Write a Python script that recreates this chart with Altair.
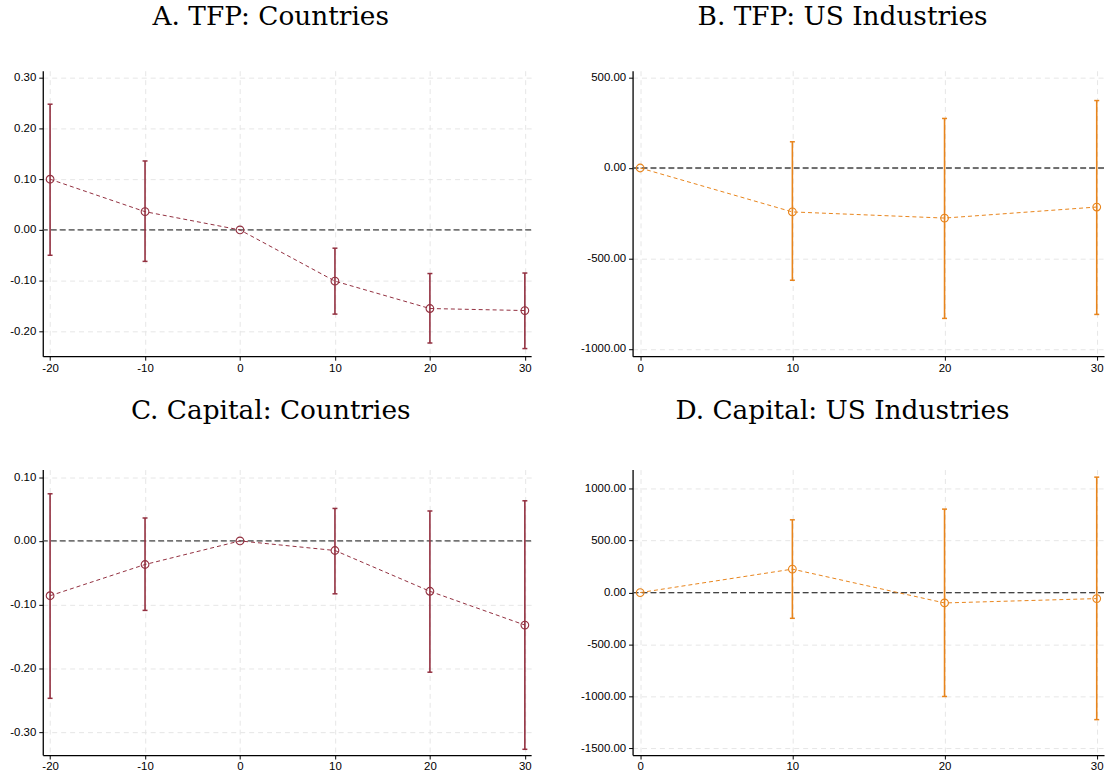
import altair as alt
import pandas as pd

# ---- Panel A: TFP, countries ----
a_x = [-20, -10, 0, 10, 20, 30]
a_est = [0.100, 0.036, 0.0, -0.101, -0.155, -0.159]
a_lo = [-0.050, -0.062, None, -0.166, -0.223, -0.234]
a_hi = [0.248, 0.136, None, -0.036, -0.086, -0.085]

# ---- Panel B: TFP, US industries ----
b_x = [0, 10, 20, 30]
b_est = [0.0, -243.0, -277.0, -216.0]
b_lo = [None, -621.0, -832.0, -810.0]
b_hi = [None, 145.0, 274.0, 373.0]

# ---- Panel C: capital, countries ----
c_x = [-20, -10, 0, 10, 20, 30]
c_est = [-0.086, -0.037, 0.0, -0.015, -0.079, -0.132]
c_lo = [-0.247, -0.109, None, -0.083, -0.206, -0.327]
c_hi = [0.074, 0.036, None, 0.051, 0.047, 0.063]

# ---- Panel D: capital, US industries ----
d_x = [0, 10, 20, 30]
d_est = [0.0, 226.0, -100.0, -58.0]
d_lo = [None, -248.0, -1001.0, -1224.0]
d_hi = [None, 701.0, 804.0, 1112.0]

MAROON = "#922F3F"
ORANGE = "#E8841B"
LABEL_FONT = "Liberation Sans"
TITLE_FONT = "DejaVu Serif"
FIX_MINUS = "replace(datum.label, '\u2212', '-')"


def x_axis(values):
    return alt.Axis(values=values, format="d", labelExpr=FIX_MINUS, title=None,
                    grid=True, gridDash=[5, 4], gridColor="#e6e6e6", gridWidth=1,
                    domainColor="black", domainWidth=1.3, tickColor="black",
                    tickSize=4, tickWidth=1, labelFont=LABEL_FONT, labelFontSize=11.5,
                    labelColor="black", labelPadding=2)


def y_axis(values):
    return alt.Axis(values=values, format=".2f", labelExpr=FIX_MINUS, title=None,
                    grid=True, gridDash=[5, 4], gridColor="#e6e6e6", gridWidth=1,
                    domainColor="black", domainWidth=1.3, tickColor="black",
                    tickSize=4, tickWidth=1, labelFont=LABEL_FONT, labelFontSize=11.5,
                    labelColor="black", labelPadding=3)


def panel(title, xs, est, lo, hi, color, xdom, xticks, ydom, yticks, w, h, offset):
    df = pd.DataFrame({"x": xs, "est": est, "lo": lo, "hi": hi})
    xs_ = alt.Scale(domain=xdom, nice=False, zero=False)
    ys_ = alt.Scale(domain=ydom, nice=False, zero=False)
    xa = x_axis(xticks)
    ya = y_axis(yticks)

    base = alt.Chart(df)
    bars = base.transform_filter("isValid(datum.lo) && isValid(datum.hi)")

    zero = alt.Chart(pd.DataFrame({"z": [0.0]})).mark_rule(
        color="#444444", strokeDash=[6, 3], strokeWidth=1.3
    ).encode(y=alt.Y("z:Q", scale=ys_, axis=ya))

    line = base.mark_line(color=color, strokeDash=[4, 3], strokeWidth=1).encode(
        x=alt.X("x:Q", scale=xs_, axis=xa),
        y=alt.Y("est:Q", scale=ys_, axis=ya),
    )

    err = bars.mark_rule(color=color, strokeWidth=1.6).encode(
        x=alt.X("x:Q", scale=xs_, axis=xa),
        y=alt.Y("lo:Q", scale=ys_, axis=ya),
        y2="hi:Q",
    )

    caps = bars.transform_fold(["lo", "hi"], as_=["bound", "v"]).mark_tick(
        orient="horizontal", size=5, thickness=1.5, color=color, opacity=1
    ).encode(
        x=alt.X("x:Q", scale=xs_, axis=xa),
        y=alt.Y("v:Q", scale=ys_, axis=ya),
    )

    pts = base.mark_point(shape="circle", filled=False, size=60, strokeWidth=1.1,
                          color=color, opacity=1).encode(
        x=alt.X("x:Q", scale=xs_, axis=xa),
        y=alt.Y("est:Q", scale=ys_, axis=ya),
    )

    return alt.layer(zero, line, err, caps, pts).properties(
        width=w, height=h,
        title=alt.TitleParams(title, font=TITLE_FONT, fontSize=26.5, fontWeight="normal",
                              color="black", anchor="middle", frame="bounds",
                              offset=offset),
    )


ticks_country = [-20, -10, 0, 10, 20, 30]
ticks_us = [0, 10, 20, 30]

pa = panel("A. TFP: Countries", a_x, a_est, a_lo, a_hi, MAROON,
           [-20.77, 30.66], ticks_country, [-0.249, 0.314],
           [-0.2, -0.1, 0.0, 0.1, 0.2, 0.3], 491, 287, 40)
pb = panel("B. TFP: US Industries", b_x, b_est, b_lo, b_hi, ORANGE,
           [-0.5, 30.48], ticks_us, [-1041, 538],
           [-1000, -500, 0, 500], 474, 287, 40)
pc = panel("C. Capital: Countries", c_x, c_est, c_lo, c_hi, MAROON,
           [-20.77, 30.66], ticks_country, [-0.336, 0.112],
           [-0.3, -0.2, -0.1, 0.0, 0.1], 491, 287, 45)
pd_ = panel("D. Capital: US Industries", d_x, d_est, d_lo, d_hi, ORANGE,
            [-0.5, 30.48], ticks_us, [-1565, 1185],
            [-1500, -1000, -500, 0, 500, 1000], 474, 287, 45)

chart = alt.vconcat(
    alt.hconcat(pa, pb, spacing=48),
    alt.hconcat(pc, pd_, spacing=48),
    spacing=24,
).properties(
    padding={"left": 9, "top": 2, "right": 5, "bottom": 5},
    background="white",
).configure_view(stroke=None)

chart.save("out.html", embed_options={"renderer": "svg", "actions": False})
